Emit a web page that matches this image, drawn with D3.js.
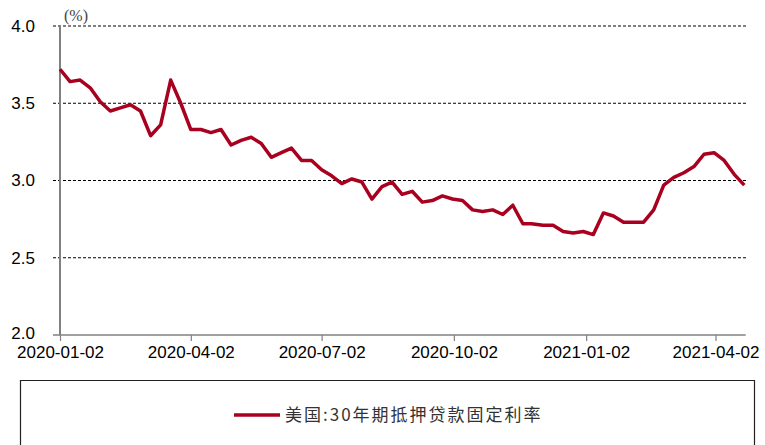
<!DOCTYPE html>
<html>
<head>
<meta charset="utf-8">
<script src="https://cdn.jsdelivr.net/npm/d3@7"></script>
<style>
  body { margin: 0; background: #fff; }
  svg { display: block; }
</style>
</head>
<body>
<div id="chart"></div>
<script>
// weekly 30y fixed mortgage rate, %
const dates = [
  '2020-01-02','2020-01-09','2020-01-16','2020-01-23','2020-01-30','2020-02-06','2020-02-13','2020-02-20','2020-02-27',
  '2020-03-05','2020-03-12','2020-03-19','2020-03-26','2020-04-02','2020-04-09','2020-04-16','2020-04-23','2020-04-30',
  '2020-05-07','2020-05-14','2020-05-21','2020-05-28','2020-06-04','2020-06-11','2020-06-18','2020-06-25',
  '2020-07-02','2020-07-09','2020-07-16','2020-07-23','2020-07-30','2020-08-06','2020-08-13','2020-08-20','2020-08-27',
  '2020-09-03','2020-09-10','2020-09-17','2020-09-24','2020-10-01','2020-10-08','2020-10-15','2020-10-22','2020-10-29',
  '2020-11-05','2020-11-12','2020-11-19','2020-11-25','2020-12-03','2020-12-10','2020-12-17','2020-12-24','2020-12-31',
  '2021-01-07','2021-01-14','2021-01-21','2021-01-28','2021-02-04','2021-02-11','2021-02-18','2021-02-25',
  '2021-03-04','2021-03-11','2021-03-18','2021-03-25','2021-04-01','2021-04-08','2021-04-15','2021-04-22'
];
const rates = [
  3.72,3.64,3.65,3.60,3.51,3.45,3.47,3.49,3.45,
  3.29,3.36,3.65,3.50,3.33,3.33,3.31,3.33,3.23,
  3.26,3.28,3.24,3.15,3.18,3.21,3.13,3.13,
  3.07,3.03,2.98,3.01,2.99,2.88,2.96,2.99,2.91,
  2.93,2.86,2.87,2.90,2.88,2.87,2.81,2.80,2.81,
  2.78,2.84,2.72,2.72,2.71,2.71,2.67,2.66,2.67,
  2.65,2.79,2.77,2.73,2.73,2.73,2.81,2.97,
  3.02,3.05,3.09,3.17,3.18,3.13,3.04,2.97
];
const xTicks = ['2020-01-02','2020-04-02','2020-07-02','2020-10-02','2021-01-02','2021-04-02'];
const yTicks = [2.0, 2.5, 3.0, 3.5, 4.0];
const seriesName = '美国:30年期抵押贷款固定利率';
const unitLabel = '(%)';

const W = 765, H = 445;
const parse = d3.timeParse('%Y-%m-%d');
const data = dates.map((d, i) => ({date: parse(d), value: rates[i]}));

const plotLeft = 60, plotRight = 745.7, plotTop = 26, plotBottom = 335;

const x = d3.scaleTime()
    .domain([parse('2020-01-02'), parse('2021-04-23')])
    .range([plotLeft, plotRight]);
const y = d3.scaleLinear().domain([2, 4]).range([plotBottom, plotTop]);

const svg = d3.select('#chart').append('svg')
    .attr('width', W).attr('height', H);

// dashed gridlines
svg.append('g')
  .selectAll('line')
  .data(yTicks.filter(v => v > 2))
  .enter().append('line')
    .attr('x1', plotLeft - 7).attr('x2', plotRight + 1)
    .attr('y1', d => y(d)).attr('y2', d => y(d))
    .attr('stroke', '#000')
    .attr('stroke-width', 1)
    .attr('stroke-dasharray', '3,2');

// y axis
const yAxis = svg.append('g')
    .attr('transform', `translate(${plotLeft},0)`)
    .call(d3.axisLeft(y).tickValues(yTicks).tickFormat(d3.format('.1f')).tickSize(0).tickPadding(25));
yAxis.select('.domain').remove();
yAxis.selectAll('text')
    .attr('font-family', '"Liberation Sans", Arial, sans-serif')
    .attr('font-size', 17)
    .attr('fill', '#000');
// nudge the bottom label up a touch so it clears the date labels
yAxis.selectAll('.tick').filter(d => d === 2).select('text').attr('dy', '0.2em');

svg.append('line')
    .attr('x1', plotLeft).attr('x2', plotLeft)
    .attr('y1', plotTop).attr('y2', plotBottom)
    .attr('stroke', '#808080').attr('stroke-width', 2);

// x axis
const xAxis = svg.append('g')
    .attr('transform', `translate(0,${plotBottom})`)
    .call(d3.axisBottom(x).tickValues(xTicks.map(parse)).tickFormat(d3.timeFormat('%Y-%m-%d')).tickSize(6).tickPadding(5));
xAxis.select('.domain').remove();
xAxis.selectAll('line').attr('stroke', '#808080').attr('stroke-width', 1.2);
xAxis.selectAll('text')
    .attr('font-family', '"Liberation Sans", Arial, sans-serif')
    .attr('font-size', 17)
    .attr('fill', '#000');

svg.append('line')
    .attr('x1', plotLeft - 7).attr('x2', plotRight)
    .attr('y1', plotBottom).attr('y2', plotBottom)
    .attr('stroke', '#808080').attr('stroke-width', 1.5);

// unit label
svg.append('text')
    .attr('x', 64).attr('y', 21)
    .attr('font-family', '"Liberation Serif", "Times New Roman", serif')
    .attr('font-size', 16)
    .attr('fill', '#444')
    .text(unitLabel);

// series
const line = d3.line()
    .x(d => x(d.date))
    .y(d => y(d.value));

svg.append('path')
    .datum(data)
    .attr('fill', 'none')
    .attr('stroke', '#A8001E')
    .attr('stroke-width', 3.5)
    .attr('stroke-linejoin', 'round')
    .attr('d', line);

// legend box
svg.append('path')
    .attr('d', `M20.5,${H} V380.5 H754.5 V${H}`)
    .attr('fill', 'none')
    .attr('stroke', '#222')
    .attr('stroke-width', 1.2);

svg.append('line')
    .attr('x1', 234).attr('x2', 280)
    .attr('y1', 415).attr('y2', 415)
    .attr('stroke', '#A8001E')
    .attr('stroke-width', 3.5);

svg.append('text')
    .attr('x', 285).attr('y', 421)
    .attr('font-family', '"Noto Sans CJK SC", sans-serif')
    .attr('font-size', 17)
    .attr('fill', '#333')
    .attr('letter-spacing', 2)
    .text(seriesName);
</script>
</body>
</html>
